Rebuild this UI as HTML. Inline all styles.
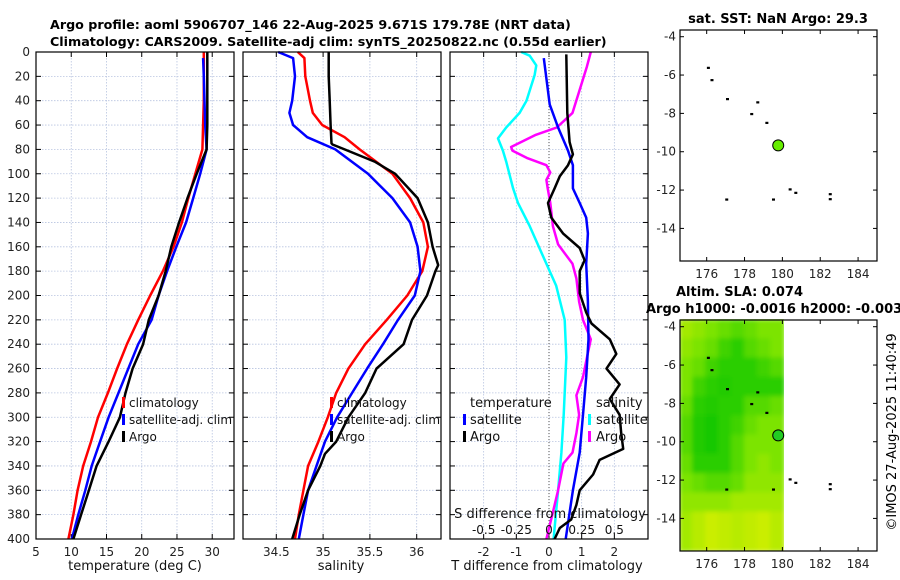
<!DOCTYPE html>
<html><head><meta charset="utf-8">
<style>
html,body{margin:0;padding:0;background:#fff;}
svg{display:block;font-family:"DejaVu Sans","Liberation Sans",sans-serif;}
</style></head>
<body>
<svg id="fig" width="900" height="580" viewBox="0 0 900 580" xmlns="http://www.w3.org/2000/svg">
<text x="50" y="29" font-size="12.7" font-weight="bold">Argo profile: aoml 5906707_146 22-Aug-2025 9.671S 179.78E (NRT data)</text>
<text x="50" y="46" font-size="12.7" font-weight="bold">Climatology: CARS2009. Satellite-adj clim: synTS_20250822.nc (0.55d earlier)</text>
<text x="778" y="23" font-size="13" font-weight="bold" text-anchor="middle">sat. SST: NaN Argo: 29.3</text>
<text x="676" y="296" font-size="13" font-weight="bold">Altim. SLA: 0.074</text>
<text x="646" y="313" font-size="13" font-weight="bold">Argo h1000: -0.0016 h2000: -0.003</text>
<text x="0" y="0" font-size="13" text-anchor="middle" transform="translate(896,432) rotate(-90)">©IMOS 27-Aug-2025 11:40:49</text>
<g id="g"></g>
</svg>
<script>
// ---------- data ----------
const depthTicks = [0,20,40,60,80,100,120,140,160,180,200,220,240,260,280,300,320,340,360,380,400];
const tempTicks = [5,10,15,20,25,30];
const salTicks = [34.5,35,35.5,36];
const tdiffTicks = [-2,-1,0,1,2];
const sdiffTickLabels = ["-0.5","-0.25","0","0.25","0.5"];
const sdiffTickValues = [-0.5,-0.25,0,0.25,0.5];

const stdDepths = [0,20,40,60,80,100,120,140,160,180,200,220,240,260,280,300,320,340,360,380,400];
const tempClim = [28.8,28.8,28.8,28.7,28.6,27.6,26.6,25.7,24.5,23.0,21.2,19.5,17.9,16.5,15.2,13.8,12.8,11.7,10.9,10.3,9.6];
const tempSatDepths = [5,20,40,60,80,100,120,140,160,180,200,220,240,260,280,300,320,340,360,380,400];
const tempSat = [28.7,28.8,28.9,29.0,29.2,28.3,27.3,26.3,24.9,23.6,22.4,21.4,19.5,18.1,16.7,15.3,14.1,12.9,12.0,11.0,10.1];
const tempArgo = [29.3,29.3,29.3,29.3,29.2,27.8,26.5,25.3,24.2,23.4,22.4,21.0,20.2,18.7,17.7,16.9,15.3,13.6,12.5,11.4,10.3];

const salDepths = [0,5,20,40,50,60,70,80,100,120,140,160,180,200,220,240,260,280,300,320,340,360,380,400];
const salClim = [34.73,34.80,34.81,34.86,34.89,34.99,35.23,35.39,35.74,35.93,36.07,36.12,36.06,35.90,35.68,35.45,35.27,35.14,35.05,34.95,34.84,34.79,34.74,34.70];
const salSat = [34.52,34.68,34.70,34.67,34.64,34.68,34.83,35.13,35.48,35.74,35.93,36.01,36.04,35.98,35.80,35.64,35.47,35.31,35.15,35.02,34.93,34.84,34.79,34.74];
const salArgoDepths = [0,20,40,60,75,76,80,90,100,120,140,160,175,180,200,220,240,260,280,300,320,330,340,360,380,400];
const salArgo = [35.06,35.06,35.07,35.08,35.09,35.10,35.23,35.55,35.77,36.01,36.12,36.17,36.23,36.20,36.11,35.95,35.86,35.57,35.45,35.27,35.14,35.02,34.97,34.84,34.75,34.67];

const tSatDiffDepths = [5,43,62,81,93,112,124,136,149,174,205,236,267,298,329,360,400];
const tSatDiff = [-0.16,0.02,0.28,0.58,0.73,0.73,0.94,1.14,1.19,1.14,1.19,1.21,1.14,1.04,0.94,0.73,0.51];
const sSatDiffDepths = [0,3,11,19,40,50,62,71,81,90,112,124,143,174,192,220,251,298,329,360,391,400];
const sSatDiffT = [-0.85,-0.59,-0.39,-0.44,-0.69,-0.9,-1.31,-1.56,-1.41,-1.31,-1.1,-0.95,-0.59,-0.08,0.22,0.48,0.53,0.45,0.38,0.28,0.17,0.14];
const sArgoDiffDepths = [0,12,50,62,68,78,81,87,93,99,105,112,124,143,158,174,186,205,220,236,251,267,282,298,313,329,338,360,378,400];
const sArgoDiff = [0.32,0.29,0.18,0.06,-0.10,-0.29,-0.28,-0.17,-0.02,0.01,-0.02,-0.01,0.01,0.03,0.07,0.18,0.21,0.23,0.26,0.32,0.29,0.26,0.21,0.23,0.21,0.18,0.11,0.07,0.03,-0.02];
const tArgoDiffDepths = [2,50,74,84,93,102,112,124,136,149,161,171,180,198,214,223,236,248,260,273,285,298,313,326,335,347,360,372,384,391,400];
const tArgoDiff = [0.53,0.56,0.63,0.73,0.58,0.33,0.17,-0.03,0.07,0.43,0.94,1.09,0.94,0.94,1.14,1.30,1.86,2.06,1.76,2.16,1.86,2.16,2.21,2.27,1.55,1.35,0.94,0.84,0.68,0.33,0.17];

const lonTicks = [176,178,180,182,184];
const latTicks = [-4,-6,-8,-10,-12,-14];
const dotLon = [176.09,176.28,177.1,178.7,178.38,179.18,177.06,179.53,180.41,180.71,182.53,182.53];
const dotLat = [-5.62,-6.26,-7.25,-7.42,-8.03,-8.49,-12.49,-12.49,-11.96,-12.14,-12.21,-12.47];
const argoLon = 179.78, argoLat = -9.671;
const slaGrid = [
 [0.7,0.6,0.5,0.4,0.3,0.4,0.5,0.5],
 [0.6,0.5,0.4,0.2,0.1,0.3,0.4,0.5],
 [0.5,0.4,0.2,0.1,0.1,0.1,0.2,0.3],
 [0.5,0.2,0.1,0.05,0.1,0.1,0.1,0.1],
 [0.4,0.1,0.05,0.1,0.1,0.3,0.3,0.4],
 [0.3,0.05,0,0.1,0.2,0.4,0.5,0.5],
 [0.3,0.05,0,0.1,0.3,0.5,0.5,0.5],
 [0.4,0.1,0.1,0.1,0.3,0.5,0.6,0.5],
 [0.5,0.4,0.3,0.3,0.4,0.6,0.6,0.6],
 [0.6,0.6,0.6,0.6,0.7,0.7,0.7,0.7],
 [0.7,0.8,0.9,0.85,0.8,0.85,0.9,0.8],
 [0.7,0.8,0.9,0.85,0.8,0.85,0.9,0.8]];

// ---------- helpers ----------
const NS="http://www.w3.org/2000/svg";
const G=document.getElementById('g');
function mk(tag,attrs,parent){const e=document.createElementNS(NS,tag);for(const k in attrs)e.setAttribute(k,attrs[k]);(parent||G).appendChild(e);return e;}
const PT=52, PB=539;
const yD = d => PT + d*(PB-PT)/400;
function lin(d0,d1,r0,r1){return v=>r0+(v-d0)*(r1-r0)/(d1-d0);}
const xT = lin(5,33.09,36,234);
const xS = lin(34.5,35.5,276.3,369.9);
const xTd = lin(-3.03,3.03,450,648);
const xSd = v => xTd(v*4);

function panel(x0,x1,name,xticks,xfn,labels){
  const g=mk('g',{});
  
  
  for(const d of depthTicks){ if(d>0&&d<400) mk('line',{x1:x0,x2:x1,y1:yD(d),y2:yD(d),stroke:'#b8c4e0','stroke-width':0.8,'stroke-dasharray':'1.5,1.5'},g);}
  for(const t of xticks){const x=xfn(t); if(x>x0&&x<x1) mk('line',{x1:x,x2:x,y1:PT,y2:PB,stroke:'#b8c4e0','stroke-width':0.8,'stroke-dasharray':'1.5,1.5'},g);}
  for(const d of depthTicks){mk('line',{x1:x0,x2:x0+5,y1:yD(d),y2:yD(d),stroke:'#000','stroke-width':1},g);mk('line',{x1:x1-5,x2:x1,y1:yD(d),y2:yD(d),stroke:'#000','stroke-width':1},g);}
  for(const t of xticks){const x=xfn(t);mk('line',{x1:x,x2:x,y1:PB,y2:PB-5,stroke:'#000'},g);mk('line',{x1:x,x2:x,y1:PT,y2:PT+5,stroke:'#000'},g);
    if(labels){const tx=mk('text',{x:x,y:PB+17,'font-size':12,'text-anchor':'middle',fill:'#222'},g);tx.textContent=String(t);
      
      }}
  return g;
}
function line(depths,vals,xfn,color,name,w){
  let d='';for(let i=0;i<vals.length;i++){d+=(i?'L':'M')+xfn(vals[i]).toFixed(1)+','+yD(depths[i]).toFixed(1);}
  const p=mk('path',{d:d,fill:'none',stroke:color,'stroke-width':w||2.5,'stroke-linejoin':'round'});
  
  
  return p;
}
function frame(x0,x1,name){const r=mk('rect',{x:x0,y:PT,width:x1-x0,height:PB-PT,fill:'none',stroke:'#000','stroke-width':1.2});
  
  }
function txt(x,y,s,name,opt){const t=mk('text',Object.assign({x:x,y:y,'font-size':12,fill:'#111'},opt||{}));t.textContent=s;
  
  return t;}
function legBar(x,y,color,name){const r=mk('rect',{x:x,y:y-10,width:3,height:11,fill:color});
  
  }

// ---------- panel 1: temperature ----------
panel(36,234,'temperature-panel',tempTicks,xT,true);
for(const d of depthTicks){const t=txt(30,yD(d)+4,String(d),'depth-tick-label',{'text-anchor':'end','fill':'#222'});}
line(stdDepths,tempClim,xT,'#ff0000','temp-climatology-line');
line(tempSatDepths,tempSat,xT,'#0000ff','temp-satellite-line');
line(stdDepths,tempArgo,xT,'#000000','temp-argo-line');
frame(36,234,'temperature-axes');
txt(135,570,'temperature (deg C)','temperature-axis-title',{'text-anchor':'middle','font-size':13});
legBar(122,407,'#ff0000','legend-climatology-marker');txt(129,407,'climatology','legend-climatology');
legBar(122,424,'#0000ff','legend-satellite-marker');txt(129,424,'satellite-adj. clim','legend-satellite-adj');
legBar(122,441,'#000','legend-argo-marker');txt(129,441,'Argo','legend-argo');

// ---------- panel 2: salinity ----------
panel(243,441,'salinity-panel',salTicks,xS,true);
line(salDepths,salClim,xS,'#ff0000','sal-climatology-line');
line(salDepths,salSat,xS,'#0000ff','sal-satellite-line');
line(salArgoDepths,salArgo,xS,'#000000','sal-argo-line');
frame(243,441,'salinity-axes');
txt(341,570,'salinity','salinity-axis-title',{'text-anchor':'middle','font-size':13});
legBar(330,407,'#ff0000','legend2-climatology-marker');txt(337,407,'climatology','legend2-climatology');
legBar(330,424,'#0000ff','legend2-satellite-marker');txt(337,424,'satellite-adj. clim','legend2-satellite-adj');
legBar(330,441,'#000','legend2-argo-marker');txt(337,441,'Argo','legend2-argo');

// ---------- panel 3: differences ----------
panel(450,648,'difference-panel',tdiffTicks,xTd,true);
mk('line',{x1:xTd(0),x2:xTd(0),y1:PT,y2:PB,stroke:'#555','stroke-width':1,'stroke-dasharray':'1,2'});
line(sSatDiffDepths,sSatDiffT,xTd,'#00ffff','sdiff-satellite-line');
line(sArgoDiffDepths,sArgoDiff,xSd,'#ff00ff','sdiff-argo-line');
line(tSatDiffDepths,tSatDiff,xTd,'#0000ff','tdiff-satellite-line');
line(tArgoDiffDepths,tArgoDiff,xTd,'#000000','tdiff-argo-line');
frame(450,648,'difference-axes');
txt(547,570,'T difference from climatology','tdiff-axis-title',{'text-anchor':'middle','font-size':13});
txt(550,518,'S difference from climatology','sdiff-axis-title',{'text-anchor':'middle','font-size':13});
for(let i=0;i<sdiffTickLabels.length;i++){txt(xSd(sdiffTickValues[i]),534,sdiffTickLabels[i],'sdiff-tick-label',{'text-anchor':'middle','font-size':12});}
txt(470,407,'temperature','legend3-temperature-heading',{'font-size':13});
legBar(463,424,'#0000ff','legend3-tsat-marker');txt(470,424,'satellite','legend3-tsat',{'font-size':13});
legBar(463,441,'#000','legend3-targo-marker');txt(470,441,'Argo','legend3-targo',{'font-size':13});
txt(596,407,'salinity','legend3-salinity-heading',{'font-size':13});
legBar(588,424,'#00ffff','legend3-ssat-marker');txt(596,424,'satellite','legend3-ssat',{'font-size':13});
legBar(588,441,'#ff00ff','legend3-sargo-marker');txt(596,441,'Argo','legend3-sargo',{'font-size':13});

// ---------- maps ----------
function map(top,name,withGrid){
  const L=680,R=877,B=top+231;
  const xL=lin(174.59,185.0,L,R), yL=lin(-3.65,-15.7,top,B);
  const g=mk('g',{});
  
  
  if(withGrid){
    const rows=slaGrid.length, cols=slaGrid[0].length;
    const gw=(784-L)/cols, gh=(B-top)/rows;
    const cg=mk('g',{'clip-path':'url(#slaclip)',filter:'url(#blur)'},g);
    const c0=[24,200,0],c1=[124,228,0],c2=[222,240,0];
    for(let r=0;r<rows;r++)for(let c=0;c<cols;c++){
      const v=slaGrid[r][c];let a,b,t;if(v<0.5){a=c0;b=c1;t=v/0.5;}else{a=c1;b=c2;t=(v-0.5)/0.5;}
      const col='rgb('+a.map((q,i)=>Math.round(q+(b[i]-q)*t)).join(',')+')';
      const cell=mk('rect',{x:L+c*gw-1,y:top+r*gh-1,width:gw+2,height:gh+2,fill:col},cg);
      
      
    }
  }
  for(const t of lonTicks){const x=xL(t);mk('line',{x1:x,x2:x,y1:B,y2:B-4,stroke:'#000'},g);mk('line',{x1:x,x2:x,y1:top,y2:top+4,stroke:'#000'},g);
    const tx=txt(x,B+17,String(t),'lon-tick-label',{'text-anchor':'middle','fill':'#222'});}
  for(const t of latTicks){const y=yL(t);mk('line',{x1:L,x2:L+4,y1:y,y2:y,stroke:'#000'},g);mk('line',{x1:R-4,x2:R,y1:y,y2:y,stroke:'#000'},g);
    txt(L-4,y+4,String(t),'lat-tick-label',{'text-anchor':'end','fill':'#222'});}
  for(let i=0;i<dotLon.length;i++){const d=mk('rect',{x:xL(dotLon[i])-1.5,y:yL(dotLat[i])-1,width:3,height:2.2,fill:'#000'},g);
    
    }
  const c=mk('circle',{cx:xL(argoLon),cy:yL(argoLat),r:5.5,fill:withGrid?'#22cc22':'#66ee00',stroke:'#000','stroke-width':1},g);
  
  
  const f=mk('rect',{x:L,y:top,width:R-L,height:B-top,fill:'none',stroke:'#000','stroke-width':1.2},g);
  
  
}
const defs=mk('defs',{});
const cp=mk('clipPath',{id:'slaclip'},defs);mk('rect',{x:680,y:319,width:104,height:232},cp);
const fl=mk('filter',{id:'blur',x:'-0.1',y:'-0.1',width:'1.2',height:'1.2'},defs);mk('feGaussianBlur',{stdDeviation:2.5},fl);
map(30,'sst-map',false);
map(320,'sla-map',true);
</script>
</body></html>
